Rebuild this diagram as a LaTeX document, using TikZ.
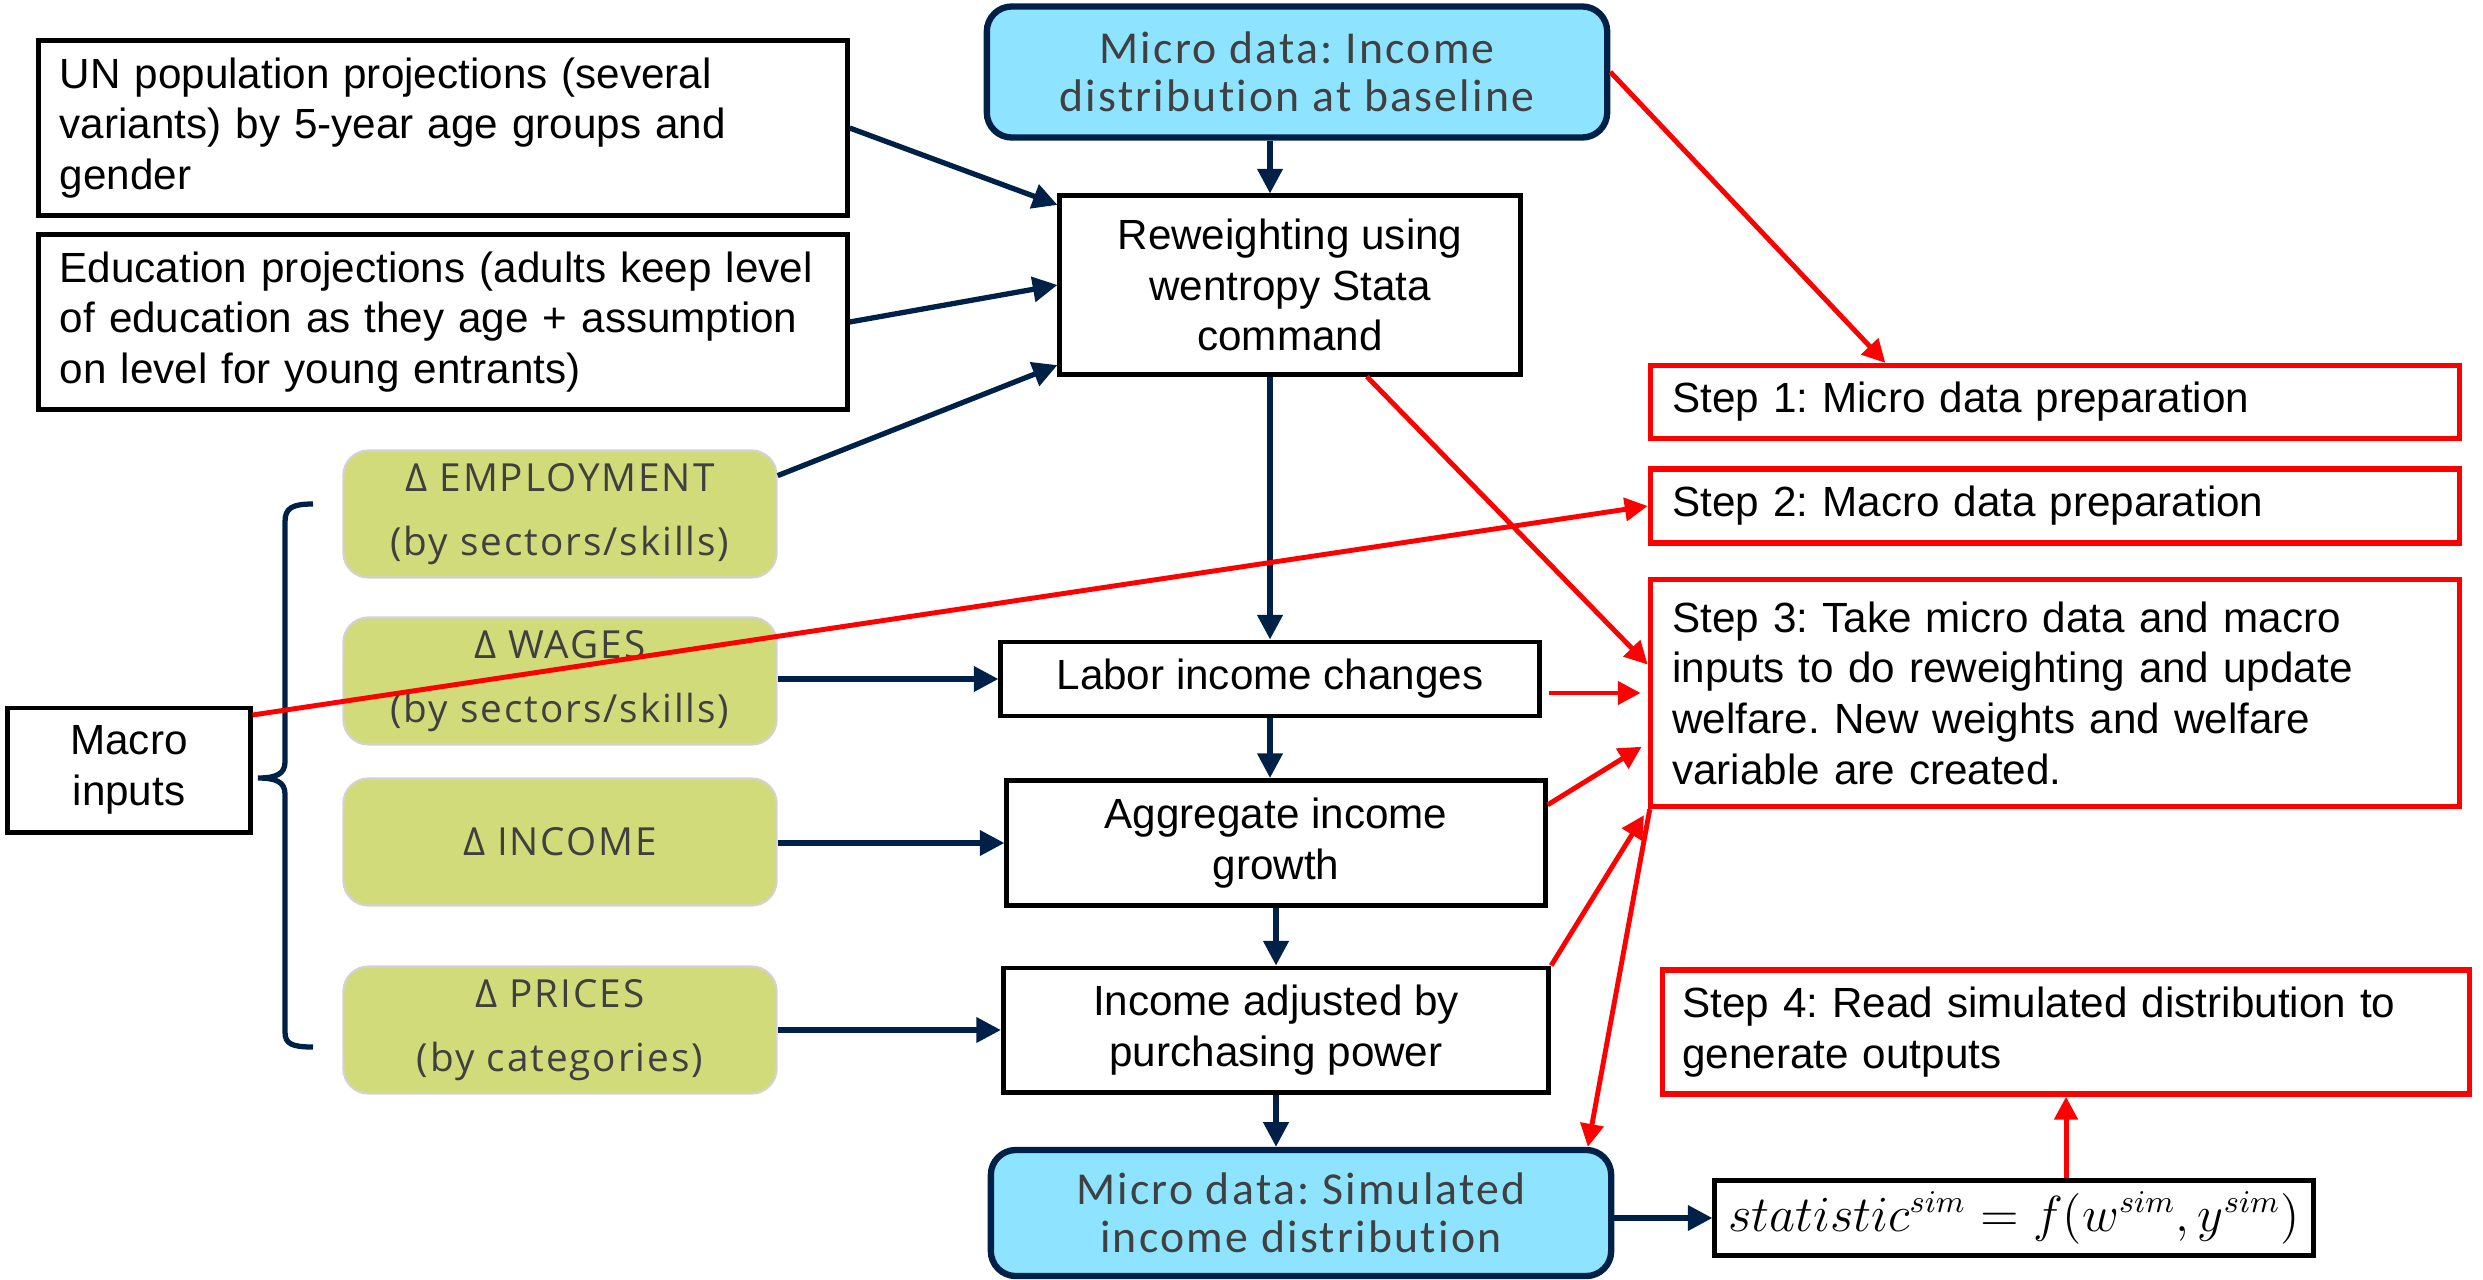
\documentclass[tikz,border=0pt]{standalone}
\usepackage{fontspec}
\setmainfont{Liberation Sans}
\newfontfamily\carl[LetterSpace=5,RawFeature=-liga]{Carlito}
\newfontfamily\opsans[LetterSpace=5]{Open Sans}
\usetikzlibrary{arrows.meta}
\definecolor{navy}{RGB}{0,33,71}
\definecolor{skyfill}{RGB}{142,227,255}
\definecolor{olivefill}{RGB}{210,219,122}
\definecolor{txtgray}{RGB}{64,64,64}
\frenchspacing

\begin{document}
\begin{tikzpicture}[x=0.01cm,y=-0.01cm,
		box/.style={draw,line width=1.4pt,inner sep=0pt,align=center,font=\fontsize{12}{14.4}\selectfont},
		lbox/.style={box,align=left,inner xsep=0.21cm,text width=7.66cm},
		stepbox/.style={box,draw=red,line width=1.5pt,align=left,inner xsep=0.22cm,text width=7.65cm},
		microbox/.style={draw=navy,line width=1.8pt,rounded corners=0.25cm,fill=skyfill,text=txtgray,align=center,inner sep=0pt,minimum width=6.2cm,font=\carl\fontsize{13}{13.5}\selectfont},
		ybox/.style={draw=gray!35,line width=0.6pt,rounded corners=0.25cm,fill=olivefill,text=txtgray,align=center,inner sep=0pt,minimum width=4.33cm,minimum height=1.27cm,font=\opsans\fontsize{11}{18}\selectfont},
		nav/.style={draw=navy,line width=1.5pt,-{Triangle[length=7pt,width=7pt]}},
		rd/.style={draw=red,line width=1.4pt,-{Triangle[length=6.5pt,width=6.5pt]}}
	]
	\useasboundingbox (0,0) rectangle (2483,1279);

	\node[lbox,minimum height=1.75cm] (un) at (443,128) {UN population projections (several\\variants) by 5-year age groups and\\gender};
	\node[lbox,minimum height=1.75cm] (ed) at (443,322) {Education projections (adults keep level\\of education as they age + assumption\\on level for young entrants)};
	\node[microbox,minimum height=1.31cm] (mt) at (1297,72) {Micro data: Income\\distribution at baseline};
	\node[box,minimum width=4.6cm,minimum height=1.78cm] (rw) at (1290,285) {Reweighting using\\wentropy Stata\\command};

	\node[stepbox,minimum height=0.73cm] (s1) at (2055,402) {Step 1: Micro data preparation};
	\node[stepbox,minimum height=0.74cm] (s2) at (2055,506) {Step 2: Macro data preparation};
	\node[stepbox,minimum height=2.27cm] (s3) at (2055,693) {Step 3: Take micro data and macro\\inputs to do reweighting and update\\welfare. New weights and welfare\\variable are created.};
	\node[stepbox,text width=7.67cm,inner xsep=0.2cm,minimum height=1.24cm] (s4) at (2066,1032) {Step 4: Read simulated distribution to\\generate outputs};

	\node[box,minimum width=5.38cm,minimum height=0.74cm] (lab) at (1270,679) {Labor income changes};
	\node[box,minimum width=5.38cm,minimum height=1.25cm] (agg) at (1276,843) {Aggregate income\\growth};
	\node[box,minimum width=5.45cm,minimum height=1.24cm] (adj) at (1276,1030) {Income adjusted by\\purchasing power};
	\node[microbox,minimum height=1.26cm] (mb) at (1301,1213) {Micro data: Simulated\\income distribution};
	\node[box,minimum width=5.98cm,minimum height=0.75cm,font=\fontsize{13.5}{16}\selectfont] (st) at (2014,1218) {$statistic^{sim}=f(w^{sim},y^{sim})$};

	\node[box,minimum width=2.42cm,minimum height=1.24cm] (mac) at (129,770) {Macro\\inputs};
	\node[ybox] (emp) at (560,514) {Δ EMPLOYMENT\\(by sectors/skills)};
	\node[ybox] (wag) at (560,681) {Δ WAGES\\(by sectors/skills)};
	\node[ybox] (inc) at (560,842) {Δ INCOME};
	\node[ybox] (pri) at (560,1030) {Δ PRICES\\(by categories)};

	\draw[navy,line width=1.5pt] (313,504) .. controls (292,504) and (285,508) .. (285,522) -- (285,762) .. controls (285,774) and (276,778) .. (258,778) .. controls (276,778) and (285,782) .. (285,794) -- (285,1032) .. controls (285,1044) and (292,1047) .. (313,1047);

	\draw[nav] (lab.north |- mt.south) -- (lab.north |- rw.north);
	\draw[nav] (un.east) -- (rw.161);
	\draw[nav] (ed.east) -- (rw.west);
	\draw[nav] (emp.10) -- (rw.199);
	\draw[nav] (rw.south -| lab.north) -- (lab.north);
	\draw[nav] (lab.south) -- (lab.south |- agg.north);
	\draw[nav] (agg.south) -- (adj.north);
	\draw[nav] (adj.south) -- (adj.south |- mb.north);
	\draw[nav] (wag.east |- lab.west) -- (lab.west);
	\draw[nav] (inc.east |- agg.west) -- (agg.west);
	\draw[nav] (pri.east |- adj.west) -- (adj.west);
	\draw[nav] (mb.east |- st.west) -- (st.west);

	\draw[rd] (mt.east) -- (s1.167);
	\draw[rd] (mac.24) -- (s2.west);
	\draw[rd] (rw.-50) -- (s3.176);
	\draw[rd,shorten <=2pt,shorten >=2pt] (lab.east |- s3.west) -- (s3.west);
	\draw[rd,shorten >=2pt] (agg.8) -- (s3.187);
	\draw[rd,shorten >=2pt] (adj.north east) -- (s3.south west);
	\draw[rd] (s3.196) -- (mb.13);
	\draw[rd] (st.north -| s4.south) -- (s4.south);
\end{tikzpicture}
\end{document}
